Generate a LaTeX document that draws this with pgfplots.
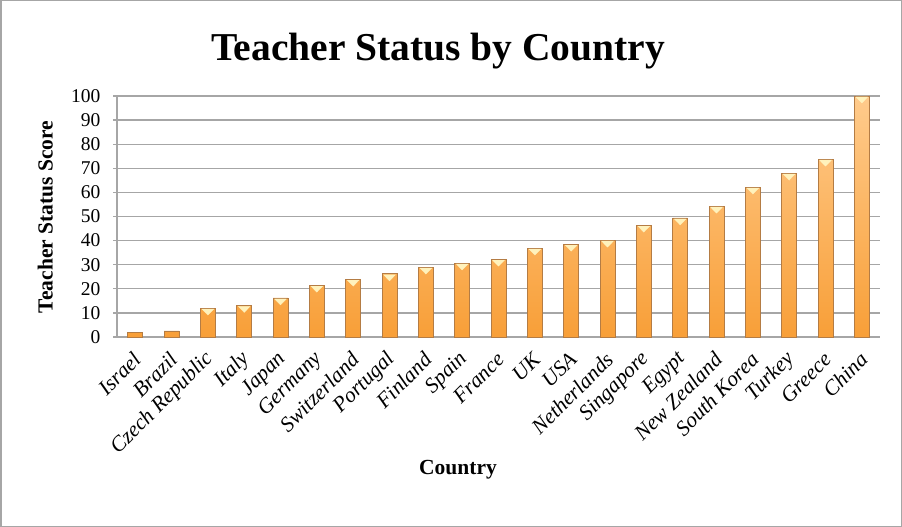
\documentclass[border=0pt]{standalone}
\usepackage{pgfplots}
\pgfplotsset{compat=1.18}
\usepackage{fontspec}
\setmainfont{Liberation Serif}
\definecolor{gridgray}{HTML}{A6A6A6}
\definecolor{bartop}{HTML}{FFCB8C}
\definecolor{barbot}{HTML}{F89F38}
\definecolor{baredge}{HTML}{B47C44}
\definecolor{capcol}{HTML}{FFF2BC}
\begin{document}
\begin{tikzpicture}
\draw[draw=gridgray, line width=1.5bp] (0.75bp,0.75bp) rectangle (901.25bp,526.25bp);
\begin{axis}[
  at={(117bp,190bp)}, anchor=south west,
  scale only axis,
  width=763bp, height=241bp,
  xmin=-0.5, xmax=20.5,
  ymin=0, ymax=100,
  ytick={0,10,...,100},
  xtick={0,...,20},
  xticklabels={Israel,Brazil,Czech Republic,Italy,Japan,Germany,Switzerland,Portugal,Finland,Spain,France,UK,USA,Netherlands,Singapore,Egypt,New Zealand,South Korea,Turkey,Greece,China},
  xticklabel style={xshift=2bp, yshift=-19bp, rotate=45, anchor=east, inner sep=0pt, font=\fontsize{21.5bp}{23bp}\selectfont\itshape},
  yticklabel style={font=\fontsize{19.5bp}{21bp}\selectfont, xshift=-9bp},
  /pgf/number format/assume math mode=true,
  ymajorgrids,
  grid style={draw=gridgray, line width=1.3bp},
  axis line style={draw=gridgray, line width=1.3bp},
  axis x line*=bottom, axis y line*=left,
  x axis line style={-},
  y axis line style={-},
  ytick style={draw=gridgray, line width=1.3bp},
  ytick align=outside, major tick length=4bp,
  xtick style={draw=none},
  clip=false,
]
\addplot[ybar, bar width=15bp, draw=baredge, line width=0.8bp, top color=bartop, bottom color=barbot] coordinates {
(0,1.9) (1,2.5) (2,12.0) (3,13.1) (4,16.2) (5,21.5) (6,24.0) (7,26.2) (8,29.0) (9,30.7) (10,32.3)
(11,36.9) (12,38.5) (13,40.2) (14,46.4) (15,49.4) (16,54.3) (17,62.2) (18,68.0) (19,73.8) (20,100)
};
\addplot[only marks, mark=triangle*, mark size=4bp, mark options={rotate=180, xscale=1.7, fill=capcol, draw=capcol, line width=0.3bp}, yshift=-3bp] coordinates {
(2,12.0) (3,13.1) (4,16.2) (5,21.5) (6,24.0) (7,26.2) (8,29.0) (9,30.7) (10,32.3)
(11,36.9) (12,38.5) (13,40.2) (14,46.4) (15,49.4) (16,54.3) (17,62.2) (18,68.0) (19,73.8) (20,100)
};
\end{axis}
\node[anchor=base, font=\fontsize{39.5bp}{42bp}\selectfont\bfseries] at (438bp,466.5bp) {Teacher Status by Country};
\node[anchor=base, font=\fontsize{21.5bp}{23bp}\selectfont\bfseries] at (458bp,52bp) {Country};
\node[anchor=base, rotate=90, font=\fontsize{21.5bp}{23bp}\selectfont\bfseries] at (52.5bp,310bp) {Teacher Status Score};
\end{tikzpicture}
\end{document}
